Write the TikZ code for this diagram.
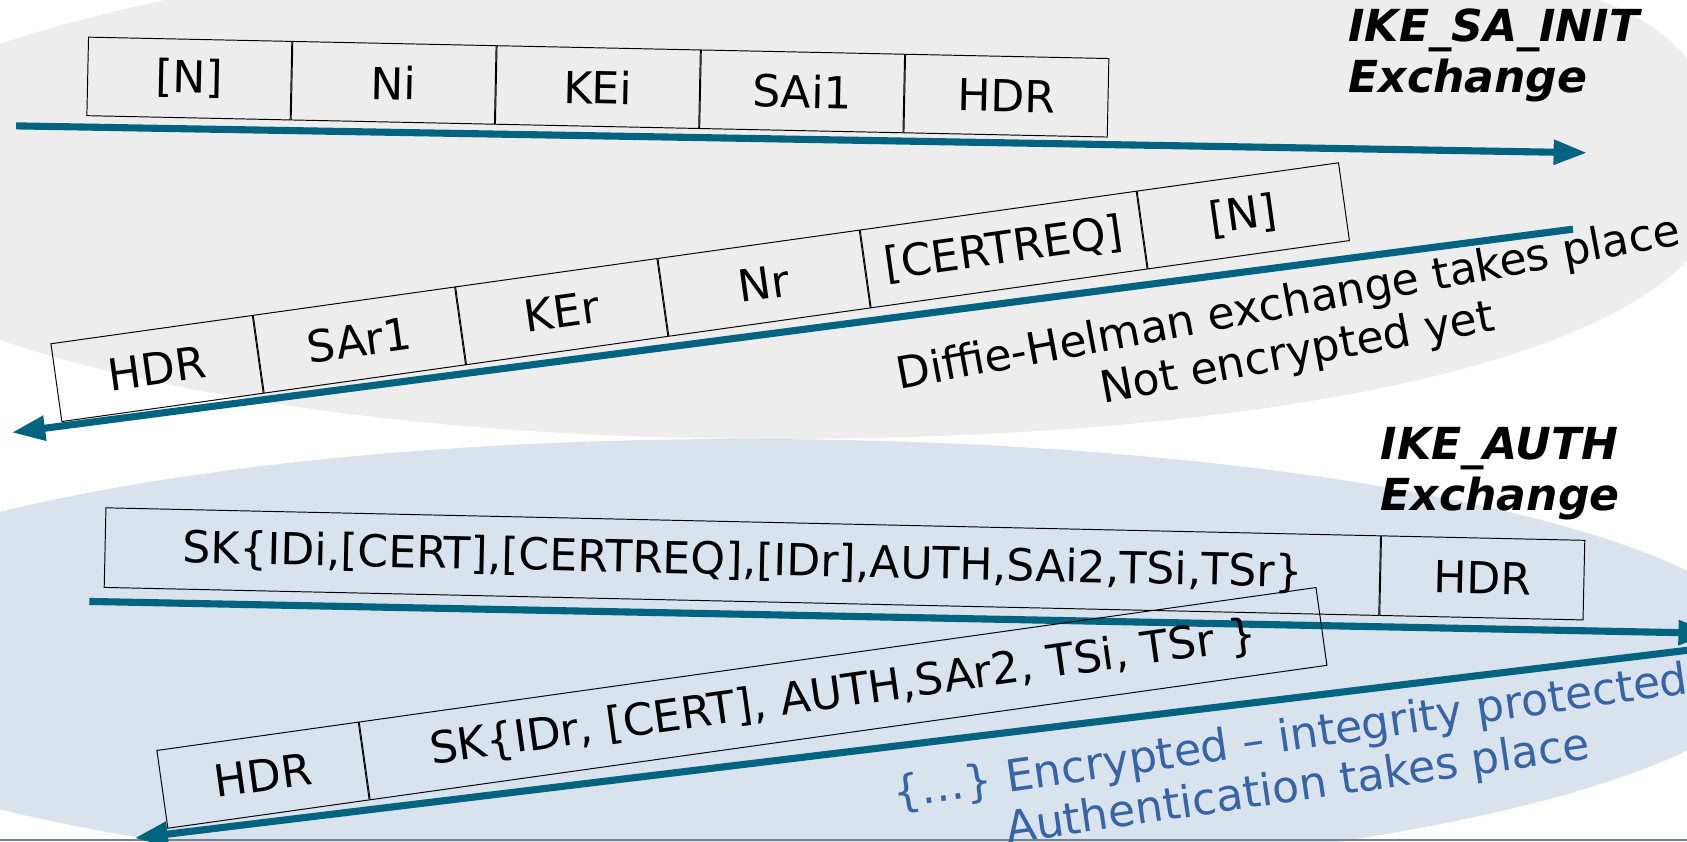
\documentclass[tikz,border=0pt]{standalone}
\usepackage{fontspec}
\setmainfont{DejaVu Sans}[BoldFont={DejaVu Sans Bold},ItalicFont={DejaVu Sans Oblique},BoldItalicFont={DejaVu Sans Bold Oblique}]
\usetikzlibrary{arrows.meta}
\definecolor{teal1}{RGB}{0,99,128}
\definecolor{bggray}{RGB}{237,237,237}
\definecolor{bgblue}{RGB}{217,227,238}
\definecolor{txtblue}{RGB}{55,100,165}
\definecolor{edgeline}{RGB}{118,128,140}
\begin{document}
\begin{tikzpicture}[x=0.5pt,y=-0.5pt,
  pkt/.style={draw=black, line width=0.45pt, inner sep=0pt, minimum height=36.5pt, font=\fontsize{20.5}{23.9}\selectfont},
  msg/.style={draw=teal1, line width=3.3pt, -{Triangle[length=15.5pt,width=11pt]}},
  title/.style={align=left, inner sep=0pt, anchor=north west, font=\fontsize{20.5}{23.75}\selectfont\bfseries\itshape},
  note/.style={align=center, inner sep=0pt, font=\fontsize{20.5}{23.5}\selectfont}]
\useasboundingbox (0,0) rectangle (1568,782);
\clip (0,0) rectangle (1568,782);
\fill[white] (0,0) rectangle (1568,782);
% background shapes
\fill[bggray] (-180,178) .. controls (-180,50) and (236,-54) .. (750,-54)
  .. controls (1472,-54) and (1600,-20) .. (1600,172)
  .. controls (1600,314) and (1248,408) .. (720,408)
  .. controls (223,408) and (-180,305) .. (-180,178) -- cycle;
\fill[bgblue] (-240,614) .. controls (-240,500) and (176,408) .. (690,408)
  .. controls (1220,408) and (1650,500) .. (1650,614)
  .. controls (1650,728) and (1220,820) .. (690,820)
  .. controls (176,820) and (-240,728) .. (-240,614) -- cycle;
\fill[edgeline] (0,780.2) rectangle (1568,782);
% arrows
\coordinate (m1s) at (15,117);   \coordinate (m1e) at (1475,142);
\coordinate (m2s) at (1462,213); \coordinate (m2e) at (11,402);
\coordinate (m3s) at (83,559);   \coordinate (m3e) at (1591,588.6);
\coordinate (m4s) at (1580,603); \coordinate (m4e) at (125,779);
\draw[msg] (m1s) -- (m1e);
\draw[msg] (m2s) -- (m2e);
\draw[msg] (m3s) -- (m3e);
\draw[msg] (m4s) -- (m4e);
% IKE_SA_INIT request
\node[pkt, minimum width=94.5pt, rotate=-1.2] (i1) at (176,73) {[N]};
\node[pkt, minimum width=94.5pt, rotate=-1.2, anchor=west] (i2) at (i1.east) {Ni};
\node[pkt, minimum width=94.5pt, rotate=-1.2, anchor=west] (i3) at (i2.east) {KEi};
\node[pkt, minimum width=94.5pt, rotate=-1.2, anchor=west] (i4) at (i3.east) {SAi1};
\node[pkt, minimum width=94.5pt, rotate=-1.2, anchor=west] (i5) at (i4.east) {HDR};
% IKE_SA_INIT response
\node[pkt, minimum width=94.5pt, rotate=8] (r1) at (146,342.5) {HDR};
\node[pkt, minimum width=94.5pt, rotate=8, anchor=west] (r2) at (r1.east) {SAr1};
\node[pkt, minimum width=94.5pt, rotate=8, anchor=west] (r3) at (r2.east) {KEr};
\node[pkt, minimum width=94.5pt, rotate=8, anchor=west] (r4) at (r3.east) {Nr};
\node[pkt, minimum width=129.5pt, rotate=8, anchor=west] (r5) at (r4.east) {[CERTREQ]};
\node[pkt, minimum width=94.5pt, rotate=8, anchor=west] (r6) at (r5.east) {[N]};
% IKE_AUTH request
\node[pkt, minimum width=592.5pt, minimum height=37pt, rotate=-1.26] (a1) at (690,522) {SK\{IDi,[CERT],[CERTREQ],[IDr],AUTH,SAi2,TSi,TSr\}};
\node[pkt, minimum width=94.5pt, minimum height=37pt, rotate=-1.26, anchor=west] (a2) at (a1.east) {HDR};
% IKE_AUTH response
\node[pkt, minimum width=94.5pt, rotate=8] (b1) at (244.5,720.5) {HDR};
\node[pkt, minimum width=449pt, rotate=8, anchor=west] (b2) at (b1.east) {SK\{IDr, [CERT], AUTH,SAr2, TSi, TSr \}};
% titles
\node[title] (t1) at (1253,8) {IKE\_SA\_INIT\\Exchange};
\node[title] (t2) at (1283,397) {IKE\_AUTH\\Exchange};
% notes
\node[note, rotate=10.5] (n1) at (1202,306.5) {Diffie-Helman exchange takes place\\Not encrypted yet};
\node[note, rotate=8.3, text=txtblue] (n2) at (1203,710) {\{…\} Encrypted -- integrity protected\\Authentication takes place};
\end{tikzpicture}
\end{document}
